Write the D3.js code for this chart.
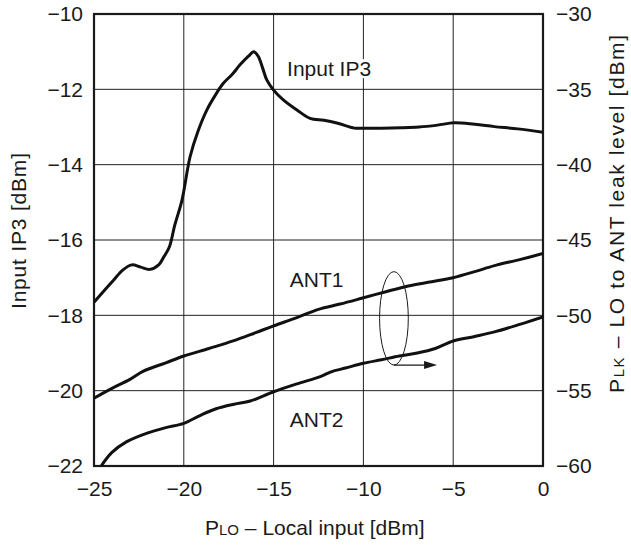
<!DOCTYPE html>
<html>
<head>
<meta charset="utf-8">
<script src="https://cdn.jsdelivr.net/npm/d3@7"></script>
<style>
  html, body { margin: 0; padding: 0; background: #fff; }
  svg text { font-family: "Liberation Sans", Arial, Helvetica, sans-serif; fill: #1a1a1a; }
</style>
</head>
<body>
<svg id="chart" width="631" height="545"></svg>
<script>
// x axis: local input power [dBm]
const xTicks = [-25, -20, -15, -10, -5, 0];
const leftTicks = [-22, -20, -18, -16, -14, -12, -10];
const rightTicks = [-60, -55, -50, -45, -40, -35, -30];

// Input IP3 (left axis)
const ip3X = [-25, -24.5, -23.9, -23.4, -22.9, -22.4, -21.9, -21.4, -21.1, -20.8, -20.5, -20.1, -19.65, -19.2, -18.72, -18.2, -17.8, -17.3, -16.87, -16.4, -16.1, -15.85, -15.6, -15.38, -15.0, -14.46, -13.7, -12.97, -12.2, -11.43, -10.5, -10.0, -9.0, -7.9, -6.9, -5.87, -4.94, -3.8, -2.71, -1.4, 0];
const ip3Y = [-17.65, -17.38, -17.06, -16.8, -16.66, -16.72, -16.78, -16.66, -16.44, -16.18, -15.6, -14.94, -13.79, -13.1, -12.55, -12.12, -11.84, -11.6, -11.35, -11.12, -11.0, -11.13, -11.45, -11.75, -12.02, -12.28, -12.55, -12.77, -12.82, -12.9, -13.03, -13.03, -13.03, -13.02, -13.0, -12.95, -12.89, -12.93, -12.99, -13.05, -13.14];

// ANT1 / ANT2 leak level (right axis)
const ant1X = [-25, -24, -23, -22.25, -21, -20, -18.6, -17.25, -16, -15, -13.7, -12.5, -11.3, -10.1, -8.8, -7.5, -6.2, -5, -3.8, -2.7, -1.3, 0];
const ant1Y = [-55.5, -54.85, -54.25, -53.7, -53.15, -52.7, -52.2, -51.7, -51.15, -50.7, -50.15, -49.6, -49.25, -48.87, -48.45, -48.05, -47.77, -47.5, -47.1, -46.7, -46.3, -45.9];

const ant2X = [-24.6, -24, -23.2, -22, -21, -20, -19.1, -18.2, -17.2, -16.3, -15, -13.7, -12.4, -11.8, -11, -10, -9, -8, -7, -6, -5, -3.8, -2.7, -1.3, 0];
const ant2Y = [-60.0, -59.1, -58.4, -57.8, -57.45, -57.17, -56.65, -56.2, -55.9, -55.69, -55.07, -54.55, -54.07, -53.75, -53.5, -53.18, -52.95, -52.7, -52.5, -52.2, -51.7, -51.4, -51.1, -50.6, -50.1];

// ellipse grouping the two leak curves, arrow pointing to right axis
const groupMark = { cx: -8.3, cy: -50.2, rx: 0.8, ry: 3.1, arrowTo: -5.9 };

const labels = [
  { text: "Input IP3", x: -14.25, axis: "left", y: -11.65 },
  { text: "ANT1", x: -14.1, axis: "right", y: -48.12 },
  { text: "ANT2", x: -14.1, axis: "right", y: -57.41 }
];

const margin = { top: 14, right: 88, bottom: 79, left: 94 };
const width = 631 - margin.left - margin.right;
const height = 545 - margin.top - margin.bottom;
const fontSize = 21;

const svg = d3.select("#chart");
const g = svg.append("g").attr("transform", `translate(${margin.left},${margin.top})`);

const x = d3.scaleLinear().domain([-25, 0]).range([0, width]);
const yL = d3.scaleLinear().domain([-22, -10]).range([height, 0]);
const yR = d3.scaleLinear().domain([-60, -30]).range([height, 0]);

const fmt = (d) => (d < 0 ? "\u2212" + Math.abs(d) : String(d));

// grid
g.append("g")
  .selectAll("line")
  .data(xTicks.slice(1, -1))
  .join("line")
  .attr("x1", (d) => x(d)).attr("x2", (d) => x(d))
  .attr("y1", 0).attr("y2", height)
  .attr("stroke", "#222").attr("stroke-width", 1);

g.append("g")
  .selectAll("line")
  .data(leftTicks.slice(1, -1))
  .join("line")
  .attr("x1", 0).attr("x2", width)
  .attr("y1", (d) => yL(d)).attr("y2", (d) => yL(d))
  .attr("stroke", "#222").attr("stroke-width", 1);

// axes (labels only, frame drawn separately)
const xAxis = g.append("g")
  .attr("transform", `translate(0,${height})`)
  .call(d3.axisBottom(x).tickValues(xTicks).tickFormat(fmt).tickSize(0).tickPadding(15));

const leftAxis = g.append("g")
  .call(d3.axisLeft(yL).tickValues(leftTicks).tickFormat(fmt).tickSize(0).tickPadding(11));

const rightAxis = g.append("g")
  .attr("transform", `translate(${width},0)`)
  .call(d3.axisRight(yR).tickValues(rightTicks).tickFormat(fmt).tickSize(0).tickPadding(13));

[xAxis, leftAxis, rightAxis].forEach((ax) => {
  ax.select(".domain").remove();
  ax.selectAll("text")
    .attr("font-size", fontSize)
    .attr("font-family", "Liberation Sans, Arial, sans-serif")
    .attr("fill", "#1a1a1a");
});

// frame
g.append("rect")
  .attr("x", 0).attr("y", 0)
  .attr("width", width).attr("height", height)
  .attr("fill", "none")
  .attr("stroke", "#1a1a1a")
  .attr("stroke-width", 2.2);

// curves
const defs = svg.append("defs");
defs.append("clipPath").attr("id", "plot-clip")
  .append("rect").attr("width", width).attr("height", height);

const curves = g.append("g").attr("clip-path", "url(#plot-clip)");

const series = [
  { xs: ip3X, ys: ip3Y, scale: yL },
  { xs: ant1X, ys: ant1Y, scale: yR },
  { xs: ant2X, ys: ant2Y, scale: yR }
];

series.forEach((s) => {
  const pts = s.xs.map((v, i) => [v, s.ys[i]]);
  const line = d3.line()
    .x((d) => x(d[0]))
    .y((d) => s.scale(d[1]))
    .curve(d3.curveCatmullRom.alpha(0.5));
  curves.append("path")
    .datum(pts)
    .attr("d", line)
    .attr("fill", "none")
    .attr("stroke", "#111")
    .attr("stroke-width", 3)
    .attr("stroke-linejoin", "round");
});

// ellipse + arrow
const ecx = x(groupMark.cx);
const ecy = yR(groupMark.cy);
const erx = x(groupMark.cx + groupMark.rx) - ecx;
const ery = yR(groupMark.cy - groupMark.ry) - ecy;

g.append("ellipse")
  .attr("cx", ecx).attr("cy", ecy)
  .attr("rx", erx).attr("ry", ery)
  .attr("fill", "none")
  .attr("stroke", "#1a1a1a")
  .attr("stroke-width", 1);

const ay = ecy + ery;
const ax2 = x(groupMark.arrowTo);
g.append("line")
  .attr("x1", ecx).attr("x2", ax2 - 10)
  .attr("y1", ay).attr("y2", ay)
  .attr("stroke", "#1a1a1a").attr("stroke-width", 1.2);
g.append("path")
  .attr("d", `M${ax2},${ay} L${ax2 - 13},${ay - 4} L${ax2 - 13},${ay + 4} Z`)
  .attr("fill", "#1a1a1a");

// curve labels, with a white patch masking the grid behind them
const labelGroup = g.append("g");
labelGroup.selectAll("text")
  .data(labels)
  .join("text")
  .attr("x", (d) => x(d.x))
  .attr("y", (d) => (d.axis === "left" ? yL(d.y) : yR(d.y)))
  .attr("font-size", fontSize)
  .text((d) => d.text)
  .each(function () {
    const box = this.getBBox();
    labelGroup.insert("rect", "text")
      .attr("x", box.x - 1).attr("y", box.y + 2)
      .attr("width", box.width + 2).attr("height", box.height - 4)
      .attr("fill", "#fff");
  });

// axis titles
const xTitle = svg.append("text")
  .attr("x", 205)
  .attr("y", 535)
  .attr("font-size", fontSize);
xTitle.append("tspan").text("P");
xTitle.append("tspan").attr("font-size", 15).text("LO");
xTitle.append("tspan").text(" \u2013 Local input [dBm]");

svg.append("text")
  .attr("transform", "translate(26,231) rotate(-90)")
  .attr("text-anchor", "middle")
  .attr("font-size", fontSize)
  .attr("textLength", 156)
  .attr("lengthAdjust", "spacing")
  .text("Input IP3 [dBm]");

const rTitle = svg.append("text")
  .attr("transform", "translate(624,214) rotate(-90)")
  .attr("text-anchor", "middle")
  .attr("font-size", fontSize)
  .attr("textLength", 358)
  .attr("lengthAdjust", "spacing");
rTitle.append("tspan").text("P");
rTitle.append("tspan").attr("font-size", 15).text("LK");
rTitle.append("tspan").text(" \u2013 LO to ANT leak level [dBm]");
</script>
</body>
</html>
